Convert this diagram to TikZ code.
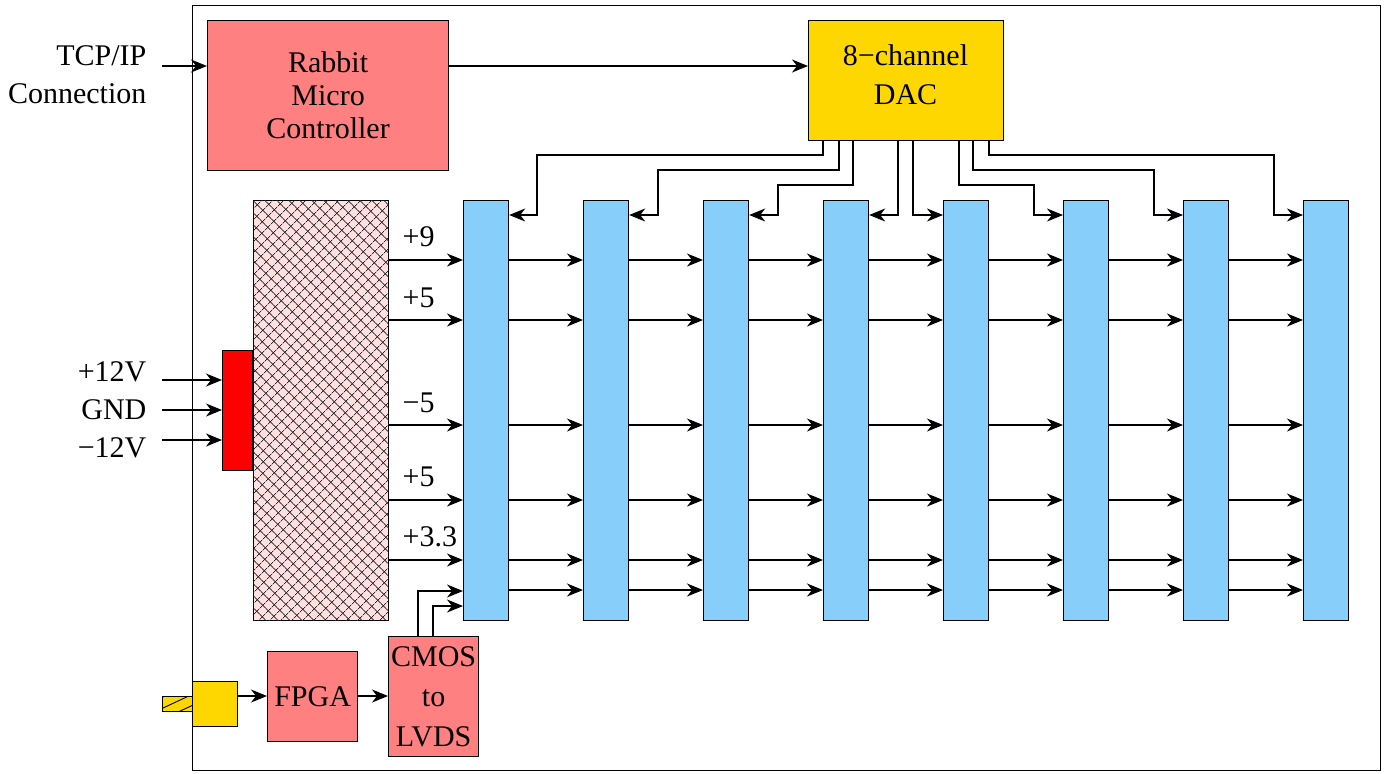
\documentclass[tikz,border=0pt]{standalone}
\usepackage{fontspec}
\setmainfont{Liberation Serif}
\usetikzlibrary{arrows.meta,patterns.meta}
\definecolor{salmon}{HTML}{FF8080}
\definecolor{gold}{HTML}{FFD700}
\definecolor{sky}{HTML}{87CEFA}
\definecolor{pinkish}{HTML}{FFE0E0}
\begin{document}
\begin{tikzpicture}[x=0.5pt,y=-0.5pt,line width=0.6pt,
  every node/.style={font=\fontsize{15}{19}\selectfont},
  box/.style={draw, inner sep=0pt, anchor=north west, align=center},
  bar/.style={box, fill=sky, minimum width=22.5pt, minimum height=210pt},
  lbl/.style={inner sep=0pt, anchor=west},
  arr/.style={-{Stealth[length=8pt,width=6.5pt,inset=2.5pt]}}]
\useasboundingbox (0,0) rectangle (1385,773);
% board frame
\node[draw, inner sep=0pt, anchor=north west, minimum width=594pt, minimum height=382.5pt] (board) at (192,5) {};
% main blocks
\node[box, fill=salmon, minimum width=120.5pt, minimum height=75pt, font=\fontsize{15}{16.5}\selectfont] (rabbit) at (207,20) {Rabbit\\Micro\\Controller};
\node[box, fill=gold, minimum width=97.5pt, minimum height=60pt] (dac) at (808,20) {};
\node[align=center, inner sep=0pt, font=\fontsize{15}{19.5}\selectfont] (dactxt) at (905.5,75) {8−channel\\DAC};
\node[box, fill=pinkish, minimum width=67.5pt, minimum height=210pt,
  postaction={pattern={Hatch[angle=45,distance=4pt,line width=0.35pt]}, pattern color=black!85}] (psu) at (253,200) {};
\node[box, fill=red, minimum width=15pt, minimum height=60pt] (pwr) at (222,350) {};
\foreach \i in {1,...,8} {
  \node[bar] (b\i) at ({463+120*(\i-1)},200) {};
}
% bottom chain
\node[box, fill=gold, minimum width=15pt, minimum height=7.5pt,
  postaction={pattern={Lines[angle=25,distance=5pt,line width=0.45pt]}, pattern color=black}] (plug) at (162,696) {};
\node[box, fill=gold, minimum width=22.5pt, minimum height=22.5pt] (ybox) at (192,681) {};
\node[box, fill=salmon, minimum width=45pt, minimum height=45pt] (fpga) at (267,651) {FPGA};
\node[box, fill=salmon, minimum width=45pt, minimum height=60pt, font=\fontsize{15}{20}\selectfont] (cmos) at (388,636) {CMOS\\to\\LVDS};
% outside labels
\node[inner sep=0pt, anchor=east, align=right] (tcp) at (147,75) {TCP/IP\\Connection};
\node[inner sep=0pt, anchor=east, align=right] (pin) at (147,410) {+12V\\GND\\−12V};
% rail labels
\node[lbl] (l9) at (402,237) {+9};
\node[lbl] (l5a) at (402,298) {+5};
\node[lbl] (lm5) at (402,403) {−5};
\node[lbl] (l5b) at (402,477) {+5};
\node[lbl] (l33) at (402,537) {+3.3};
% free ends
\coordinate (tcpin) at (162,66);
\coordinate (p12) at (162,380);
\coordinate (pgnd) at (162,410);
\coordinate (pm12) at (162,440);
% connectors
\draw[arr] (tcpin) -- (rabbit.west |- tcpin);
\draw[arr] (rabbit.east |- 0,66) -- (dac.west |- 0,66);
\draw[arr] (p12) -- (pwr.west |- p12);
\draw[arr] (pgnd) -- (pwr.west |- pgnd);
\draw[arr] (pm12) -- (pwr.west |- pm12);
\foreach \y in {260,320,425,500,560} {
  \draw[arr] (psu.east |- 0,\y) -- (b1.west |- 0,\y);
}
\foreach \i/\j in {1/2,2/3,3/4,4/5,5/6,6/7,7/8} {
  \foreach \y in {260,320,425,500,560,590} {
    \draw[arr] (b\i.east |- 0,\y) -- (b\j.west |- 0,\y);
  }
}
% DAC outputs
\draw[arr] (dac.south -| 823,0) |- (537,155) |- (b1.east |- 0,215);
\draw[arr] (dac.south -| 839,0) |- (658,170) |- (b2.east |- 0,215);
\draw[arr] (dac.south -| 853,0) |- (778,185) |- (b3.east |- 0,215);
\draw[arr] (dac.south -| 898,0) |- (b4.east |- 0,215);
\draw[arr] (dac.south -| 913,0) |- (b5.west |- 0,215);
\draw[arr] (dac.south -| 959,0) |- (1034,185) |- (b6.west |- 0,215);
\draw[arr] (dac.south -| 973,0) |- (1154,170) |- (b7.west |- 0,215);
\draw[arr] (dac.south -| 989,0) |- (1274,155) |- (b8.west |- 0,215);
% bottom chain connectors
\draw[arr] (ybox.east |- 0,696) -- (fpga.west |- 0,696);
\draw[arr] (fpga.east |- 0,696) -- (cmos.west |- 0,696);
\draw[arr] (cmos.north -| 418,0) |- (b1.west |- 0,591);
\draw[arr] (cmos.north -| 433,0) |- (b1.west |- 0,606);
\end{tikzpicture}
\end{document}
